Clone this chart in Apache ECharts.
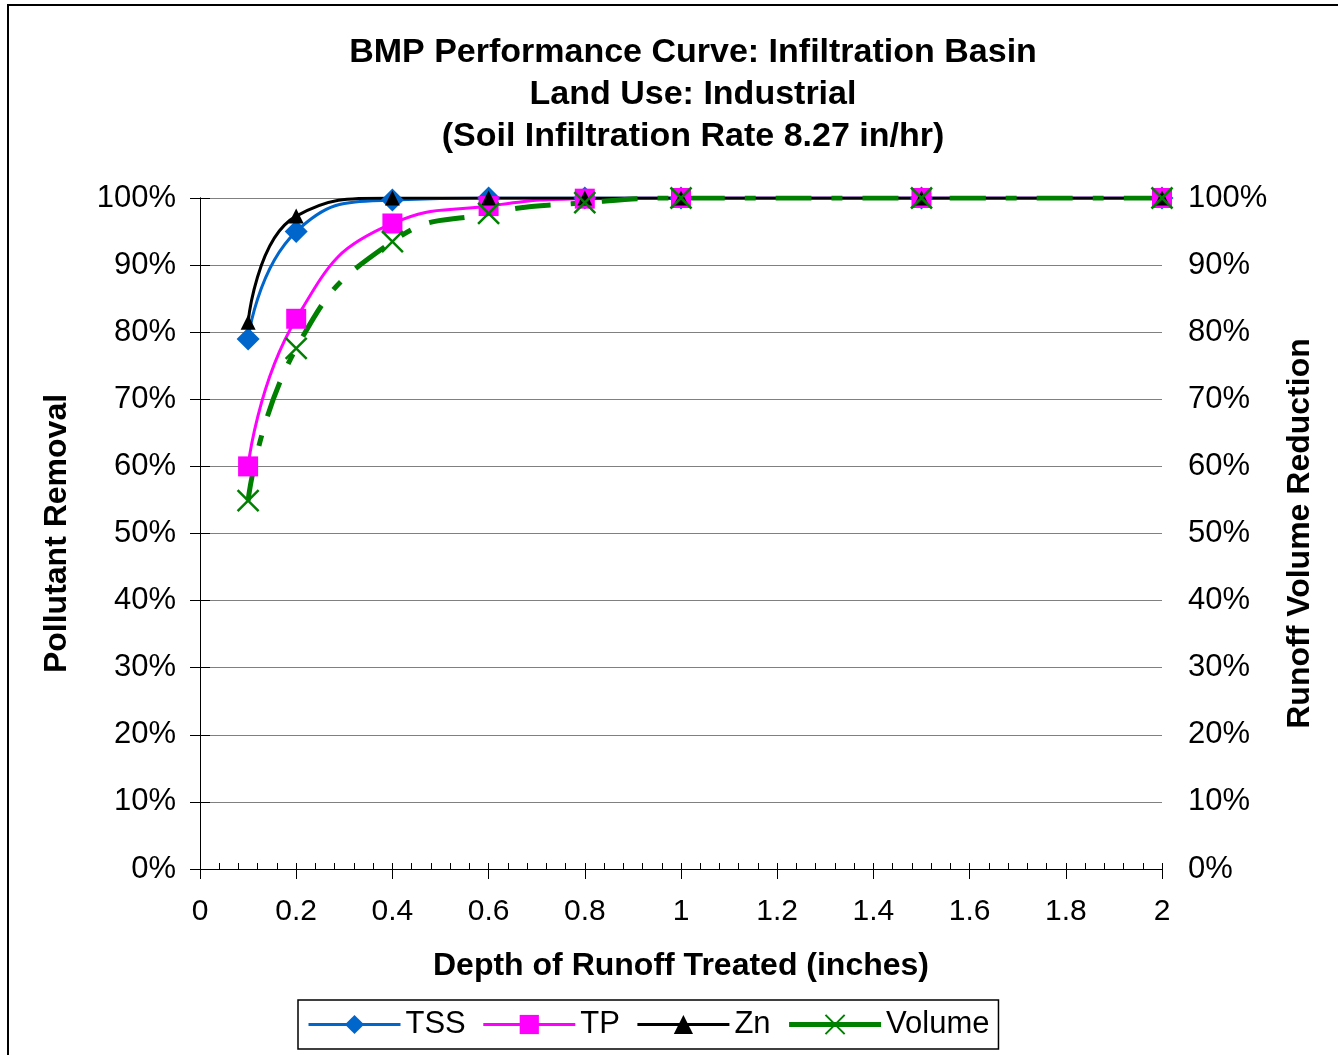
<!DOCTYPE html>
<html>
<head>
<meta charset="utf-8">
<script src="https://cdn.jsdelivr.net/npm/echarts@6/dist/echarts.min.js"></script>
<style>
html,body{margin:0;padding:0;background:#fff;}
#chart{width:1338px;height:1055px;}
</style>
</head>
<body>
<div id="chart"></div>
<script>
const depths = [0.1, 0.2, 0.4, 0.6, 0.8, 1, 1.5, 2];
const tssValues = [0.79, 0.95, 0.997, 1, 1, 1, 1, 1];
const tpValues = [0.60, 0.82, 0.962, 0.988, 0.999, 1, 1, 1];
const znValues = [0.815, 0.973, 1, 1, 1, 1, 1, 1];
const volumeValues = [0.549, 0.776, 0.935, 0.977, 0.993, 1, 1, 1];
const seriesNames = ['TSS', 'TP', 'Zn', 'Volume'];
const titleLines = ['BMP Performance Curve: Infiltration Basin', 'Land Use: Industrial', '(Soil Infiltration Rate 8.27 in/hr)'];
const xAxisTitle = 'Depth of Runoff Treated (inches)';
const leftAxisTitle = 'Pollutant Removal';
const rightAxisTitle = 'Runoff Volume Reduction';

const FONT = '"Liberation Sans", Arial, sans-serif';
const pair = (vals) => depths.map((d, i) => [d, vals[i]]);
const pct = (v) => Math.round(v * 100) + '%';

const chart = echarts.init(document.getElementById('chart'), null, {renderer: 'canvas'});
const yCommon = {
  type: 'value', min: 0, max: 1, interval: 0.1,
  axisLine: {show: true, lineStyle: {color: '#000', width: 1}},
  axisTick: {show: true, length: 10, lineStyle: {color: '#000'}},
  nameLocation: 'middle',
  nameTextStyle: {fontFamily: FONT, fontSize: 32, fontWeight: 'bold', color: '#000'}
};
chart.setOption({
  animation: false,
  backgroundColor: '#fff',
  title: {
    text: titleLines.join('\n'),
    left: 688, top: 27, textAlign: 'center',
    textStyle: {fontFamily: FONT, fontSize: 34, fontWeight: 'bold', color: '#000', lineHeight: 42}
  },
  graphic: [{
    type: 'rect', shape: {x: 8, y: 5, width: 1400, height: 1100},
    style: {fill: 'none', stroke: '#000', lineWidth: 2}, silent: true
  }],
  legend: {
    data: [
      {name: 'TSS', lineStyle: {width: 3}},
      {name: 'TP', lineStyle: {width: 3}},
      {name: 'Zn', lineStyle: {width: 3}},
      {name: 'Volume', lineStyle: {width: 5, type: 'solid'}}
    ],
    left: 298, top: 1000, height: 50,
    padding: [9, 9, 9, 9],
    itemWidth: 92, itemHeight: 24, itemGap: 16,
    borderColor: '#000', borderWidth: 1.5,
    textStyle: {fontFamily: FONT, fontSize: 31, color: '#000'}
  },
  grid: {left: 200, right: 176, top: 198, bottom: 186, containLabel: false},
  xAxis: [{
    type: 'value', min: 0, max: 2, interval: 0.2, position: 'bottom',
    axisLine: {show: true, onZero: false, lineStyle: {color: '#000', width: 1}},
    axisTick: {show: true, length: 10, lineStyle: {color: '#000'}},
    splitLine: {show: false},
    axisLabel: {fontFamily: FONT, fontSize: 30, color: '#000', margin: 28,
      formatter: (v) => String(Math.round(v * 10) / 10)},
    name: xAxisTitle, nameLocation: 'middle', nameGap: 81,
    nameTextStyle: {fontFamily: FONT, fontSize: 32, fontWeight: 'bold', color: '#000'}
  }, {
    type: 'value', min: 0, max: 2, interval: 0.04, position: 'bottom',
    axisLine: {show: false, onZero: false},
    axisTick: {show: true, inside: true, length: 6, lineStyle: {color: '#000'}},
    axisLabel: {show: false}, splitLine: {show: false}
  }],
  yAxis: [Object.assign({}, yCommon, {
    position: 'left', name: leftAxisTitle, nameGap: 127,
    axisLabel: {formatter: pct, fontFamily: FONT, fontSize: 31, color: '#000', margin: 24},
    splitLine: {show: true, lineStyle: {color: '#808080', width: 1}}
  }), Object.assign({}, yCommon, {
    position: 'right', name: rightAxisTitle, nameGap: 122,
    axisLabel: {formatter: pct, fontFamily: FONT, fontSize: 31, color: '#000', margin: 26},
    splitLine: {show: false}
  })],
  series: [{
    name: 'TSS', type: 'line', smooth: 0.5, data: pair(tssValues),
    symbol: 'diamond', symbolSize: 23,
    lineStyle: {color: '#0066CC', width: 3}, itemStyle: {color: '#0066CC'}
  }, {
    name: 'TP', type: 'line', smooth: 0.5, data: pair(tpValues),
    symbol: 'rect', symbolSize: 20,
    lineStyle: {color: '#FF00FF', width: 3}, itemStyle: {color: '#FF00FF'}
  }, {
    name: 'Zn', type: 'line', smooth: 0.5, data: pair(znValues),
    symbol: 'triangle', symbolSize: 15,
    lineStyle: {color: '#000', width: 3}, itemStyle: {color: '#000'}
  }, {
    name: 'Volume', type: 'line', smooth: 0.5, yAxisIndex: 1, data: pair(volumeValues),
    symbol: 'path://M0,0L10,10M10,0L0,10', symbolSize: 21,
    lineStyle: {color: '#008000', width: 5, type: [36, 20, 11, 20]},
    itemStyle: {color: 'none', borderColor: '#008000', borderWidth: 2.5}
  }]
});
</script>
</body>
</html>
